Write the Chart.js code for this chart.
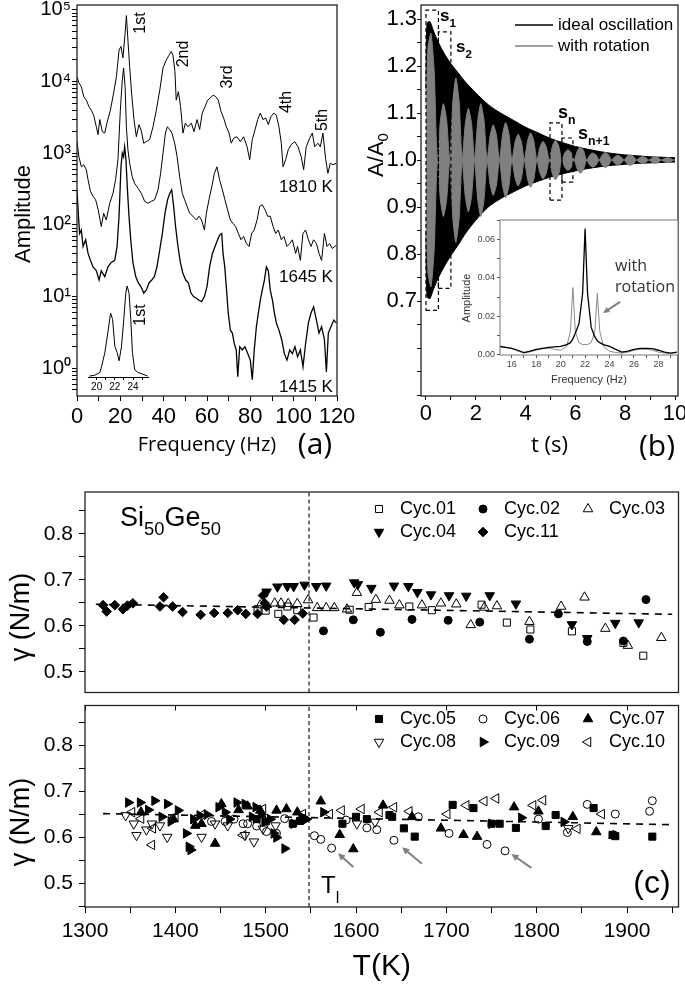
<!DOCTYPE html>
<html>
<head>
<meta charset="utf-8">
<script src="https://cdn.jsdelivr.net/npm/chart.js"></script>
<style>
  html, body { margin: 0; padding: 0; background: #fff; }
  #page { position: relative; width: 685px; height: 985px; overflow: hidden; }
  canvas { position: absolute; }
</style>
</head>
<body>
<div id="page">
  <canvas id="cA" width="356" height="460" style="left:0;top:0"></canvas>
  <canvas id="cAi" width="75" height="125" style="left:80px;top:275px"></canvas>
  <canvas id="cB" width="343" height="460" style="left:342px;top:0"></canvas>
  <canvas id="cBi" width="226" height="175" style="left:455px;top:215px"></canvas>
  <canvas id="cC1" width="685" height="219" style="left:0;top:480px"></canvas>
  <canvas id="cC2" width="685" height="286" style="left:0;top:699px"></canvas>
</div>
<script>
// ---- (a) spectra, frequency (Hz) / amplitude ----
const f1810 = [0,0.9,2.0,3.1,4.3,5.5,6.6,7.7,8.9,9.7,10.5,11.7,12.8,13.8,15.4,16.9,18.2,19.4,20.3,21.2,22.2,22.8,23.5,24.3,25.2,26.3,27.4,28.6,29.7,30.8,32.0,33.5,35.1,36.6,38.2,39.7,41.2,42.5,43.5,44.3,45.2,45.8,46.8,47.8,48.9,50.0,51.2,52.8,54.0,55.4,56.6,57.8,59.1,60.3,61.5,62.8,64.0,65.2,66.5,67.7,68.9,70.2,71.2,72.3,73.8,75.4,76.9,78.5,79.7,80.9,82.2,83.4,84.6,85.8,87.1,88.3,89.5,90.8,92.0,93.2,94.3,95.1,96.3,97.5,98.9,100.5,102.0,103.5,104.6,105.8,107.4,108.6,109.7,111.2,112.3,113.5,114.8,115.8,116.9,118.2,119.7];
const a1810 = [11700,9550,8500,6170,5500,4470,3980,3390,2340,1820,2950,2000,1910,2630,3980,6920,11700,27500,30900,21400,46800,83200,38000,16200,6920,2950,1700,2510,2040,1380,1450,1550,2340,3980,7590,15500,20000,23400,26300,23400,13800,5500,7240,4470,1910,2630,2340,2630,2000,2950,2140,3630,4470,5500,5890,6460,6170,5500,3800,3090,2340,1910,1380,1620,1700,1450,1700,1230,813,1550,2140,2950,3630,2950,3090,2510,3240,3630,3390,2340,1380,646,813,1120,1320,1450,1230,891,589,1230,1620,1910,1230,1380,1230,1910,813,525,724,692,724];
const f1645 = [0,0.9,2.0,3.1,4.3,5.1,6.2,7.4,8.6,9.8,11.2,12.3,13.5,15.1,16.6,17.8,18.9,20.0,20.9,21.5,22.2,22.8,23.5,24.3,25.5,26.6,28.2,29.7,31.2,32.8,34.3,35.8,37.4,38.6,39.7,40.8,41.7,42.8,43.8,45.1,46.2,47.4,48.6,49.7,50.8,52.0,53.5,55.1,56.3,57.5,58.8,59.7,60.9,62.2,63.4,64.6,65.8,67.1,68.3,69.5,70.8,72.0,73.2,74.5,75.7,76.9,78.2,79.4,80.6,81.8,83.1,84.3,85.5,86.8,88.0,89.2,90.5,91.7,92.9,94.3,95.5,96.9,98.2,99.4,100.9,101.8,103.1,104.3,105.5,106.8,108.0,109.2,110.5,111.7,112.9,114.2,115.4,116.6,117.8,119.7];
const a1645 = [1450,891,646,692,589,427,295,251,224,162,95,145,117,200,275,427,813,3980,10500,15500,8510,2340,1120,724,468,380,324,275,214,200,214,224,309,525,1000,1910,2340,2140,1910,1380,891,468,275,224,182,145,132,117,132,117,85,145,224,339,525,646,427,309,224,162,117,105,95,76,62,69,55,50,76,85,117,182,191,162,132,132,95,76,85,62,69,50,55,62,40,50,32,76,85,62,50,62,55,40,32,76,50,55,47,52];
const f1415 = [0,0.6,1.2,2.0,2.8,4.0,5.1,6.2,7.4,8.9,10.2,11.2,12.8,14.3,15.8,17.4,18.5,19.4,20.3,20.9,21.5,22.0,22.6,23.2,24.0,24.8,25.8,27.1,28.3,29.5,30.8,32.0,33.2,34.5,35.7,36.9,38.2,39.4,40.6,41.8,42.8,43.7,44.6,45.5,46.6,47.7,48.9,50.2,51.4,52.6,53.8,55.1,56.3,57.5,58.8,60.0,61.2,62.5,63.7,64.9,65.8,66.8,67.4,68.2,68.9,69.8,70.8,71.7,72.6,73.5,74.2,75.1,76.3,77.5,78.8,80.0,80.9,81.8,82.8,83.7,84.6,85.5,86.5,87.4,88.3,89.2,90.2,91.1,92.0,93.2,94.5,95.7,96.9,98.2,99.4,100.6,101.8,103.1,104.3,105.5,106.8,108.0,109.2,110.5,111.7,112.9,114.2,115.1,116.0,117.2,118.5,119.7];
const a1415 = [309,145,76,85,50,62,40,32,26,23,17,23,19,26,30,32,50,132,646,1000,891,1230,813,339,132,62,30,19,15.5,13.8,11.2,12.3,15.5,17,19,26,45,76,145,224,275,309,182,95,50,30,21,17,15.5,11.2,10,9.5,8.9,8.5,10,13.8,26,40,50,62,72,76,40,26,13.8,5.9,3.4,3.1,2.2,1.8,0.76,2.0,1.8,2.0,1.6,1.3,0.69,1.8,3.8,5.9,8.9,12.3,17,26,23,12.3,8.9,5.9,4.3,3.4,2.5,1.6,1.3,1.8,1.6,2.0,1.45,1.8,1.05,2.2,4.3,5.9,7.2,4.7,3.1,3.8,2.5,0.89,3.1,3.8,4.7,4.3];
// inset of (a): first peak, 20-24 Hz
const insetFreq = [19.2,19.8,20.36,20.55,20.9,21.27,21.53,21.75,22.0,22.25,22.47,22.73,22.98,23.2,23.35,23.56,23.75,23.93,24.18,24.55,25.1,25.6];
const insetAmp = [0,0.01,0.04,0.11,0.26,0.51,0.70,0.63,0.33,0.26,0.17,0.33,0.63,0.92,1.0,0.92,0.63,0.26,0.07,0.04,0.02,0.0];

// ---- (b) decay, t (s) / A/A0 ----
const envT = [0,0.04,0.15,0.3,0.5,0.75,1.0,1.3,1.6,2.0,2.5,3.0,3.5,4.0,4.5,5.0,5.5,6.0,6.5,7.0,7.5,8.0,8.5,9.0,9.5,10.0];
const envUpper = [1.15,1.29,1.295,1.275,1.25,1.225,1.205,1.185,1.165,1.143,1.118,1.1,1.085,1.07,1.058,1.046,1.037,1.029,1.023,1.018,1.014,1.011,1.009,1.007,1.006,1.005];
const envLower = [0.85,0.71,0.705,0.725,0.75,0.775,0.797,0.82,0.845,0.872,0.9,0.918,0.932,0.945,0.955,0.964,0.971,0.977,0.982,0.986,0.989,0.991,0.993,0.994,0.995,0.996];
const rotT = [0,0.08,0.2,0.33,0.45,0.58,0.7,0.83,0.95,1.08,1.2,1.33,1.45,1.58,1.7,1.83,1.95,2.08,2.2,2.33,2.45,2.58,2.7,2.83,2.95,3.08,3.2,3.33,3.45,3.58,3.7,3.83,3.95,4.08,4.2,4.33,4.45,4.58,4.7,4.83,4.95,5.08,5.2,5.33,5.45,5.58,5.7,5.83,5.95,6.08,6.2,6.33,6.45,6.58,6.7,6.83,6.95,7.08,7.2,7.33,7.45,7.58,7.7,7.83,7.95,8.08,8.2,8.33,8.45,8.58,8.7,8.83,8.95,9.08,9.2,9.33,9.45,9.58,9.7,9.83,9.95,10.0];
const rotUpper = [1.12,1.24,1.27,1.19,1.0,1.085,1.12,1.085,1.0,1.125,1.175,1.125,1.0,1.078,1.11,1.078,1.0,1.085,1.12,1.085,1.0,1.053,1.075,1.053,1.0,1.056,1.08,1.056,1.0,1.039,1.055,1.039,1.0,1.041,1.058,1.041,1.0,1.028,1.04,1.028,1.0,1.03,1.042,1.03,1.0,1.016,1.022,1.016,1.0,1.02,1.028,1.02,1.0,1.011,1.015,1.011,1.0,1.011,1.016,1.011,1.0,1.007,1.01,1.007,1.0,1.008,1.011,1.008,1.0,1.005,1.007,1.005,1.0,1.005,1.007,1.005,1.0,1.0035,1.005,1.0035,1.0,1.002];
const rotLower = [0.88,0.76,0.73,0.81,1.0,0.915,0.88,0.915,1.0,0.875,0.825,0.875,1.0,0.922,0.89,0.922,1.0,0.915,0.88,0.915,1.0,0.947,0.925,0.947,1.0,0.944,0.92,0.944,1.0,0.961,0.945,0.961,1.0,0.959,0.942,0.959,1.0,0.972,0.96,0.972,1.0,0.97,0.958,0.97,1.0,0.984,0.978,0.984,1.0,0.98,0.972,0.98,1.0,0.989,0.985,0.989,1.0,0.989,0.984,0.989,1.0,0.993,0.99,0.993,1.0,0.992,0.989,0.992,1.0,0.995,0.993,0.995,1.0,0.995,0.993,0.995,1.0,0.9965,0.995,0.9965,1.0,0.998];
// dashed windows [t0, t1, low, high]
const boxS1 = [0, 0.5, 0.68, 1.319];
const boxS2 = [0.5, 1.0, 0.727, 1.273];
const boxSn = [4.98, 5.46, 0.915, 1.079];
const boxSn1 = [5.46, 5.9, 0.953, 1.047];
// inset of (b): spectra
const specFreq = [15,15.5,16,16.5,17,17.5,18,18.5,19,19.5,20,20.5,20.8,21,21.2,21.5,21.8,22,22.2,22.5,22.8,23,23.2,23.5,24,24.5,25,25.5,26,26.5,27,27.5,28,28.5,29,29.5];
const specIdeal = [0.004,0.0035,0.003,0.002,0.0008,0.0015,0.0025,0.003,0.0035,0.0038,0.004,0.005,0.006,0.008,0.011,0.016,0.032,0.066,0.032,0.014,0.009,0.007,0.006,0.005,0.004,0.0025,0.001,0.0015,0.0025,0.003,0.003,0.0028,0.002,0.001,0.0005,0.001];
const specRot = [0.004,0.0035,0.003,0.0015,0.0005,0.0012,0.002,0.0028,0.003,0.0025,0.002,0.004,0.012,0.035,0.012,0.006,0.005,0.005,0.005,0.006,0.012,0.032,0.012,0.004,0.0015,0.0008,0.0005,0.001,0.002,0.0025,0.0025,0.002,0.001,0.0005,0.0003,0.0008];

// ---- (c) surface tension, [T (K), gamma (N/m)] ----
const cyc01 = [[1491,0.636],[1500,0.633],[1514,0.626],[1524,0.642],[1535,0.634],[1553,0.618],[1593,0.635],[1614,0.641],[1659,0.642],[1684,0.634],[1739,0.646],[1767,0.607],[1793,0.592],[1839,0.588],[1896,0.563],[1918,0.535]];
const cyc02 = [[1564,0.589],[1597,0.613],[1627,0.586],[1662,0.614],[1702,0.612],[1737,0.608],[1792,0.571],[1824,0.626],[1856,0.566],[1896,0.567],[1921,0.657]];
const cyc03 = [[1494,0.645],[1510,0.649],[1517,0.649],[1525,0.648],[1535,0.648],[1547,0.656],[1557,0.639],[1567,0.639],[1576,0.639],[1590,0.636],[1601,0.672],[1622,0.657],[1637,0.655],[1648,0.645],[1673,0.645],[1694,0.649],[1711,0.647],[1727,0.602],[1742,0.64],[1756,0.643],[1792,0.609],[1827,0.642],[1853,0.662],[1876,0.594],[1901,0.557],[1938,0.574]];
const cyc04 = [[1501,0.674],[1513,0.685],[1524,0.686],[1531,0.686],[1543,0.689],[1556,0.686],[1567,0.687],[1598,0.694],[1602,0.69],[1617,0.682],[1642,0.687],[1658,0.686],[1668,0.673],[1683,0.668],[1703,0.666],[1722,0.665],[1748,0.666],[1777,0.648],[1839,0.603],[1856,0.573],[1887,0.606],[1913,0.607]];
const cyc11 = [[1320,0.645],[1324,0.631],[1333,0.645],[1342,0.636],[1347,0.644],[1353,0.649],[1383,0.642],[1387,0.662],[1397,0.642],[1408,0.63],[1428,0.624],[1443,0.628],[1458,0.628],[1469,0.634],[1478,0.626],[1491,0.626],[1497,0.666],[1499,0.649],[1501,0.642],[1520,0.613],[1532,0.613],[1541,0.627]];
const cyc05 = [[1490,0.64],[1500,0.635],[1530,0.63],[1538,0.636],[1585,0.63],[1600,0.645],[1612,0.64],[1637,0.649],[1640,0.645],[1653,0.62],[1665,0.602],[1707,0.671],[1730,0.664],[1750,0.63],[1759,0.63],[1777,0.621],[1810,0.625],[1821,0.649],[1863,0.664],[1884,0.606],[1887,0.603],[1928,0.602]];
const cyc06 = [[1440,0.635],[1455,0.635],[1465,0.64],[1475,0.63],[1480,0.63],[1490,0.625],[1501,0.613],[1512,0.609],[1521,0.641],[1554,0.604],[1561,0.596],[1573,0.577],[1589,0.638],[1612,0.621],[1623,0.617],[1642,0.594],[1669,0.645],[1703,0.609],[1745,0.585],[1765,0.571],[1802,0.64],[1834,0.611],[1856,0.672],[1887,0.651],[1925,0.657],[1928,0.68]];
const cyc07 = [[1362,0.655],[1398,0.64],[1422,0.626],[1429,0.63],[1444,0.587],[1451,0.673],[1470,0.66],[1480,0.668],[1494,0.659],[1512,0.659],[1523,0.662],[1535,0.655],[1561,0.679],[1582,0.606],[1597,0.575],[1630,0.67],[1662,0.645],[1694,0.62],[1719,0.606],[1734,0.602],[1775,0.666],[1802,0.657],[1840,0.645],[1866,0.612],[1885,0.604]];
const cyc08 = [[1345,0.648],[1354,0.63],[1357,0.605],[1368,0.617],[1374,0.63],[1383,0.626],[1391,0.601],[1429,0.601],[1444,0.63],[1458,0.626],[1477,0.605],[1487,0.591],[1497,0.619],[1511,0.626],[1601,0.63],[1621,0.634],[1835,0.62]];
const cyc09 = [[1348,0.676],[1361,0.676],[1370,0.66],[1377,0.68],[1385,0.645],[1391,0.673],[1395,0.635],[1403,0.659],[1412,0.609],[1415,0.58],[1417,0.573],[1420,0.64],[1427,0.648],[1435,0.65],[1448,0.666],[1455,0.655],[1460,0.64],[1468,0.676],[1477,0.673],[1485,0.645],[1489,0.666],[1495,0.65],[1499,0.634],[1505,0.64],[1509,0.609],[1512,0.6],[1521,0.576],[1531,0.63],[1540,0.645],[1545,0.64],[1564,0.655],[1750,0.63],[1783,0.643],[1830,0.634]];
const cyc10 = [[1352,0.655],[1362,0.641],[1374,0.584],[1375,0.62],[1400,0.645],[1430,0.65],[1475,0.605],[1497,0.662],[1541,0.651],[1571,0.651],[1584,0.659],[1606,0.662],[1626,0.655],[1642,0.666],[1659,0.657],[1701,0.651],[1722,0.67],[1742,0.679],[1755,0.685],[1796,0.67],[1807,0.681],[1845,0.619],[1872,0.651]];
const fitTop = [[1312,0.647],[1950,0.625]];
const fitBottom = [[1320,0.652],[1950,0.628]];
const meltT = 1548;

// ---- look ----
const SANS = '"Liberation Sans", Arial, sans-serif';
const OPEN = '"Open Sans", sans-serif';
const SUP = ['\u2070','\u00b9','\u00b2','\u00b3','\u2074','\u2075'];
Chart.defaults.color = '#000';
Chart.defaults.font.family = SANS;

function fix(size) {
  return function (s) {
    if (s.isHorizontal()) s.height = size; else s.width = size;
    s.paddingLeft = s.paddingRight = s.paddingTop = s.paddingBottom = 0;
  };
}
function tickFont(size) { return { family: SANS, size: size }; }
function grid(len, color) { return { drawOnChartArea: false, tickLength: len, tickColor: color || '#000', tickWidth: 1 }; }
function xy(xs, ys) { return xs.map((x, i) => ({ x: x, y: ys[i] })); }
function pts(arr) { return arr.map(p => ({ x: p[0], y: p[1] })); }
function boxPath(b) { return [{x:b[0],y:b[2]},{x:b[1],y:b[2]},{x:b[1],y:b[3]},{x:b[0],y:b[3]},{x:b[0],y:b[2]}]; }
function base(o) {
  o.responsive = false;
  o.animation = false;
  o.events = [];
  o.plugins = Object.assign({ legend: { display: false }, tooltip: { enabled: false } }, o.plugins || {});
  return o;
}

function drawRich(ctx, str, x, y, t) {
  const size = t.size || 16, fam = t.family || SANS, wt = t.weight || 'normal';
  const subK = t.subScale || 0.68, subDy = t.subDy || 0.32;
  const parts = String(str).split(/(_\{[^}]*\})/).filter(Boolean).map(p =>
    p.startsWith('_{') ? { s: p.slice(2, -1), k: 1 } : { s: p, k: 0 });
  ctx.save();
  ctx.translate(x, y);
  if (t.rot) ctx.rotate(t.rot * Math.PI / 180);
  ctx.fillStyle = t.color || '#000';
  ctx.textBaseline = 'middle';
  let w = 0;
  parts.forEach(p => {
    p.size = p.k ? size * subK : size;
    ctx.font = wt + ' ' + p.size + 'px ' + fam;
    p.w = ctx.measureText(p.s).width;
    w += p.w;
  });
  let cx = t.align === 'left' ? 0 : (t.align === 'right' ? -w : -w / 2);
  parts.forEach(p => {
    ctx.font = wt + ' ' + p.size + 'px ' + fam;
    ctx.fillText(p.s, cx, p.k * size * subDy);
    cx += p.w;
  });
  ctx.restore();
}

function arrow(ctx, x1, y1, x2, y2, color, w, head) {
  const ang = Math.atan2(y2 - y1, x2 - x1);
  ctx.save();
  ctx.strokeStyle = color; ctx.fillStyle = color; ctx.lineWidth = w;
  ctx.beginPath();
  ctx.moveTo(x1, y1);
  ctx.lineTo(x2 - Math.cos(ang) * head * 0.7, y2 - Math.sin(ang) * head * 0.7);
  ctx.stroke();
  ctx.beginPath();
  ctx.moveTo(x2, y2);
  ctx.lineTo(x2 - head * Math.cos(ang - 0.45), y2 - head * Math.sin(ang - 0.45));
  ctx.lineTo(x2 - head * Math.cos(ang + 0.45), y2 - head * Math.sin(ang + 0.45));
  ctx.closePath();
  ctx.fill();
  ctx.restore();
}

// frames, labels, legends and arrows
const decor = {
  id: 'decor',
  beforeDraw(chart, args, o) {
    if (!o.areaFill) return;
    const a = chart.chartArea, ctx = chart.ctx;
    ctx.save();
    ctx.fillStyle = o.areaFill;
    ctx.fillRect(a.left, a.top, a.right - a.left, a.bottom - a.top);
    ctx.restore();
  },
  afterDraw(chart, args, o) {
    const ctx = chart.ctx, a = chart.chartArea;
    const ox = o.origin ? o.origin[0] : 0, oy = o.origin ? o.origin[1] : 0;
    if (o.frame) {
      ctx.save();
      ctx.strokeStyle = o.frame;
      ctx.lineWidth = o.frameWidth || 1.3;
      ctx.strokeRect(a.left, a.top, a.right - a.left, a.bottom - a.top);
      ctx.restore();
    }
    (o.lines || []).forEach(l => {
      ctx.save();
      ctx.strokeStyle = l.color; ctx.lineWidth = l.width;
      ctx.beginPath(); ctx.moveTo(l.x1 - ox, l.y - oy); ctx.lineTo(l.x2 - ox, l.y - oy); ctx.stroke();
      ctx.restore();
    });
    (o.arrows || []).forEach(ar => {
      const sx = chart.scales.x, sy = chart.scales.y;
      arrow(ctx, sx.getPixelForValue(ar.from[0]), sy.getPixelForValue(ar.from[1]),
        sx.getPixelForValue(ar.to[0]), sy.getPixelForValue(ar.to[1]), ar.color, ar.width, ar.head);
    });
    (o.legend || []).forEach(item => {
      const ds = chart.data.datasets[item.ds];
      const x = item.x - ox, y = item.y - oy;
      ctx.save();
      ctx.fillStyle = ds.pointBackgroundColor;
      ctx.strokeStyle = ds.pointBorderColor;
      ctx.lineWidth = ds.pointBorderWidth;
      Chart.helpers.drawPoint(ctx, { pointStyle: ds.pointStyle, rotation: ds.pointRotation || 0,
        radius: ds.pointRadius, borderWidth: ds.pointBorderWidth }, x, y);
      ctx.restore();
      drawRich(ctx, ds.label, x + 21, y, { size: 18, align: 'left' });
    });
    (o.texts || []).forEach(t => drawRich(ctx, t.s, t.x - ox, t.y - oy, t));
  }
};
Chart.register(decor);

function spectrum(f, a, w) {
  return { data: xy(f, a), borderColor: '#000', borderWidth: w, pointRadius: 0, fill: false, tension: 0 };
}

// ---------- (a) ----------
new Chart(document.getElementById('cA'), {
  type: 'line',
  data: { datasets: [spectrum(f1810, a1810, 1), spectrum(f1645, a1645, 1), spectrum(f1415, a1415, 1.3)] },
  options: base({
    layout: { padding: { left: 0, top: 5, right: 19, bottom: 0 } },
    scales: {
      x: { type: 'linear', min: 0, max: 120, afterFit: fix(64), border: { display: false }, grid: grid(5),
        ticks: { stepSize: 10, autoSkip: false, maxRotation: 0, padding: 3, font: tickFont(22),
          callback: v => (v % 20 === 0 ? String(v) : '') },
        title: { display: true, text: 'Frequency (Hz)', font: { family: OPEN, size: 20 }, padding: { top: 0, bottom: 3 } } },
      y: { type: 'logarithmic', min: 0.41, max: 117000, afterFit: fix(77), border: { display: false }, grid: grid(5),
        afterBuildTicks: s => {
          s.ticks = s.ticks.filter(t => {
            const m = t.value / Math.pow(10, Math.floor(Math.log10(t.value) + 1e-9));
            return Math.abs(m - Math.round(m)) < 1e-6;
          });
        },
        ticks: { autoSkip: false, padding: 1, font: tickFont(20),
          callback: v => {
            const e = Math.log10(v), r = Math.round(e);
            return (Math.abs(e - r) < 1e-6 && r >= 0) ? '10' + SUP[r] : '';
          } } }
    },
    plugins: { decor: { origin: [0, 0], frame: '#222', texts: [
      { s: 'Amplitude', x: 24, y: 214, size: 22, rot: -90 },
      { s: '1st', x: 141, y: 23, size: 16, rot: -90 },
      { s: '2nd', x: 184, y: 54, size: 16, rot: -90 },
      { s: '3rd', x: 228, y: 77, size: 16, rot: -90 },
      { s: '4th', x: 287, y: 102, size: 16, rot: -90 },
      { s: '5th', x: 323, y: 120, size: 16, rot: -90 },
      { s: '1810 K', x: 306, y: 187, size: 17 },
      { s: '1645 K', x: 306, y: 277, size: 17 },
      { s: '1415 K', x: 306, y: 387, size: 17 },
      { s: '1st', x: 141, y: 315, size: 16, rot: -90 },
      { s: '(a)', x: 315, y: 445, size: 30, family: OPEN }
    ] } }
  })
});

// inset of (a)
new Chart(document.getElementById('cAi'), {
  type: 'line',
  data: { datasets: [spectrum(insetFreq, insetAmp, 1)] },
  options: base({
    layout: { padding: { left: 8, top: 5, right: 7, bottom: 0 } },
    scales: {
      x: { type: 'linear', min: 19.05, max: 25.64, afterFit: fix(23), border: { display: true, color: '#000', width: 1 }, grid: grid(3),
        ticks: { stepSize: 1, includeBounds: false, autoSkip: false, maxRotation: 0, padding: 1, font: tickFont(10),
          callback: v => (v % 2 === 0 ? String(v) : '') } },
      y: { display: false, min: -0.01, max: 1.066 }
    }
  })
});

// ---------- (b) ----------
function boxSet(b) {
  return { data: boxPath(b), borderColor: '#000', borderWidth: 1.2, borderDash: [4, 3], pointRadius: 0, fill: false, tension: 0 };
}
new Chart(document.getElementById('cB'), {
  type: 'line',
  data: { datasets: [
    boxSet(boxS1), boxSet(boxS2), boxSet(boxSn), boxSet(boxSn1),
    { label: 'with rotation', data: xy(rotT, rotUpper), borderColor: '#808080', backgroundColor: '#808080', borderWidth: 1, pointRadius: 0, fill: '+1', tension: 0.2 },
    { data: xy(rotT, rotLower), borderColor: '#808080', borderWidth: 1, pointRadius: 0, fill: false, tension: 0.2 },
    { label: 'ideal oscillation', data: xy(envT, envUpper), borderColor: '#000', backgroundColor: '#000', borderWidth: 1, pointRadius: 0, fill: '+1', tension: 0.3 },
    { data: xy(envT, envLower), borderColor: '#000', borderWidth: 1, pointRadius: 0, fill: false, tension: 0.3 }
  ] },
  options: base({
    layout: { padding: { left: 0, top: 5, right: 7, bottom: 0 } },
    scales: {
      x: { type: 'linear', min: -0.2, max: 10.12, afterFit: fix(64), border: { display: false }, grid: grid(4),
        ticks: { stepSize: 1, includeBounds: false, autoSkip: false, maxRotation: 0, padding: 1, font: tickFont(22),
          callback: v => (Math.round(v) % 2 === 0 ? String(Math.round(v)) : '') },
        title: { display: true, text: 't (s)', font: { family: OPEN, size: 22 }, padding: { top: 0, bottom: 1 } } },
      y: { min: 0.498, max: 1.33, afterFit: fix(79), border: { display: false }, grid: grid(4),
        ticks: { stepSize: 0.05, includeBounds: false, autoSkip: false, padding: 0, font: tickFont(22),
          callback: v => { const k = Math.round(v * 20); return (k % 2 === 0 && k >= 14) ? (k / 20).toFixed(1) : ''; } } }
    },
    plugins: { decor: { origin: [342, 0], frame: '#222',
      lines: [
        { x1: 515, x2: 553, y: 25, color: '#000', width: 1.6 },
        { x1: 515, x2: 553, y: 46, color: '#808080', width: 1.6 }
      ],
      texts: [
        { s: 'A/A_{0}', x: 377, y: 155, size: 22, rot: -90 },
        { s: 'ideal oscillation', x: 558, y: 25, size: 17, align: 'left' },
        { s: 'with rotation', x: 558, y: 46, size: 17, align: 'left' },
        { s: 's_{1}', x: 440, y: 16, size: 17, weight: 'bold', align: 'left', subDy: 0.45 },
        { s: 's_{2}', x: 456, y: 47, size: 17, weight: 'bold', align: 'left', subDy: 0.45 },
        { s: 's_{n}', x: 558, y: 113, size: 18, weight: 'bold', align: 'left', subDy: 0.45 },
        { s: 's_{n+1}', x: 578, y: 134, size: 18, weight: 'bold', align: 'left', subDy: 0.45 },
        { s: '(b)', x: 657, y: 447, size: 30, family: OPEN }
      ] } }
  })
});

// inset of (b)
new Chart(document.getElementById('cBi'), {
  type: 'line',
  data: { datasets: [
    { data: xy(specFreq, specIdeal), borderColor: '#000', borderWidth: 1.3, pointRadius: 0, fill: false, tension: 0 },
    { data: xy(specFreq, specRot), borderColor: '#8a8a8a', borderWidth: 1, pointRadius: 0, fill: false, tension: 0 }
  ] },
  options: base({
    layout: { padding: { left: 0, top: 5, right: 3, bottom: 0 } },
    scales: {
      x: { type: 'linear', min: 15.04, max: 29.6, afterFit: fix(35), border: { display: false }, grid: grid(3, '#555'),
        ticks: { stepSize: 1, includeBounds: false, autoSkip: false, maxRotation: 0, padding: 1, color: '#444', font: tickFont(9),
          callback: v => (v % 2 === 0 ? String(v) : '') },
        title: { display: true, text: 'Frequency (Hz)', color: '#333', font: { family: SANS, size: 11 }, padding: { top: 0, bottom: 3 } } },
      y: { min: -0.0005, max: 0.0705, afterFit: fix(45), border: { display: false }, grid: grid(3, '#555'),
        ticks: { stepSize: 0.01, includeBounds: false, autoSkip: false, padding: 2, color: '#444', font: tickFont(9),
          callback: v => { const k = Math.round(v * 100); return k % 2 === 0 ? (k / 100).toFixed(2) : ''; } } }
    },
    plugins: { decor: { origin: [455, 215], frame: '#777', frameWidth: 1, areaFill: '#fff',
      arrows: [{ from: [24.86, 0.0274], to: [23.47, 0.0216], color: '#808080', width: 2, head: 7 }],
      texts: [
        { s: 'Amplitude', x: 467, y: 298, size: 11, rot: -90, color: '#333' },
        { s: 'with', x: 615, y: 266, size: 16, family: OPEN, align: 'left', color: '#333' },
        { s: 'rotation', x: 615, y: 287, size: 16, family: OPEN, align: 'left', color: '#333' }
      ] } }
  })
});

// ---------- (c) ----------
const tMin = 1300, tMax = 1957;
function marks(label, arr, style, rot, r, filled) {
  return { label: label, data: pts(arr), showLine: false, pointStyle: style, pointRotation: rot, pointRadius: r,
    pointBackgroundColor: filled ? '#000' : 'rgba(0,0,0,0)', pointBorderColor: '#000', pointBorderWidth: 1 };
}
function dashed(arr, dash, w) {
  return { data: pts(arr), showLine: true, borderColor: '#000', borderWidth: w, borderDash: dash, pointRadius: 0, fill: false };
}
function gammaAxis(min, max) {
  return { min: min, max: max, afterFit: fix(85), border: { display: false }, grid: grid(6),
    ticks: { stepSize: 0.05, includeBounds: false, autoSkip: false, padding: 6, font: tickFont(21),
      callback: v => { const k = Math.round(v * 20); return (k % 2 === 0 && k <= 16) ? (k / 20).toFixed(1) : ''; } } };
}
function tempAxis(show) {
  return { type: 'linear', min: tMin, max: tMax, display: show, afterFit: fix(show ? 78 : 0), border: { display: false }, grid: grid(6),
    ticks: { stepSize: 50, includeBounds: false, autoSkip: false, maxRotation: 0, padding: 6, font: tickFont(21),
      callback: v => (v % 100 === 0 ? String(v) : '') },
    title: { display: show, text: 'T(K)', font: { family: SANS, size: 30 }, padding: { top: 0, bottom: 0 } } };
}

const c1Min = 0.455, c1Max = 0.891;
new Chart(document.getElementById('cC1'), {
  type: 'scatter',
  data: { datasets: [
    marks('Cyc.01', cyc01, 'rect', 0, 5, false),
    marks('Cyc.02', cyc02, 'circle', 0, 4, true),
    marks('Cyc.03', cyc03, 'triangle', 0, 5.5, false),
    marks('Cyc.04', cyc04, 'triangle', 180, 5.5, true),
    marks('Cyc.11', cyc11, 'rectRot', 0, 4.8, true),
    dashed(fitTop, [7, 6], 1.6),
    dashed([[meltT, c1Min], [meltT, c1Max]], [4, 3], 1.1)
  ] },
  options: base({
    layout: { padding: { left: 0, top: 12, right: 5, bottom: 1 } },
    scales: { x: tempAxis(false), y: gammaAxis(c1Min, c1Max) },
    plugins: { decor: { origin: [0, 480], frame: '#222',
      legend: [
        { ds: 0, x: 379, y: 509 }, { ds: 1, x: 483, y: 509 }, { ds: 2, x: 588, y: 509 },
        { ds: 3, x: 379, y: 532 }, { ds: 4, x: 483, y: 532 }
      ],
      texts: [
        { s: '\u03b3 (N/m)', x: 22, y: 617, size: 27, rot: -90 },
        { s: 'Si_{50}Ge_{50}', x: 120, y: 519, size: 27, align: 'left', subDy: 0.42 }
      ] } }
  })
});

const c2Min = 0.449, c2Max = 0.887;
new Chart(document.getElementById('cC2'), {
  type: 'scatter',
  data: { datasets: [
    marks('Cyc.05', cyc05, 'rect', 0, 5, true),
    marks('Cyc.06', cyc06, 'circle', 0, 4, false),
    marks('Cyc.07', cyc07, 'triangle', 0, 5.5, true),
    marks('Cyc.08', cyc08, 'triangle', 180, 5.5, false),
    marks('Cyc.09', cyc09, 'triangle', 90, 5.5, true),
    marks('Cyc.10', cyc10, 'triangle', 270, 5.5, false),
    dashed(fitBottom, [7, 6], 1.6),
    dashed([[meltT, c2Min], [meltT, c2Max]], [4, 3], 1.1)
  ] },
  options: base({
    layout: { padding: { left: 0, top: 2, right: 5, bottom: 0 } },
    scales: {
      x: tempAxis(true),
      xTop: { type: 'linear', position: 'top', min: tMin, max: tMax, afterFit: fix(0), border: { display: false },
        grid: { drawOnChartArea: false, tickLength: -5, tickColor: '#000' },
        ticks: { display: false, stepSize: 100, includeBounds: false, autoSkip: false } },
      y: gammaAxis(c2Min, c2Max)
    },
    plugins: { decor: { origin: [0, 699], frame: '#222',
      legend: [
        { ds: 0, x: 379, y: 719 }, { ds: 1, x: 483, y: 719 }, { ds: 2, x: 588, y: 719 },
        { ds: 3, x: 379, y: 742 }, { ds: 4, x: 483, y: 742 }, { ds: 5, x: 588, y: 742 }
      ],
      arrows: [
        { from: [1597, 0.536], to: [1580, 0.566], color: '#808080', width: 2, head: 8 },
        { from: [1673, 0.543], to: [1651, 0.579], color: '#808080', width: 2, head: 8 },
        { from: [1794, 0.534], to: [1772, 0.564], color: '#808080', width: 2, head: 8 }
      ],
      texts: [
        { s: '\u03b3 (N/m)', x: 22, y: 822, size: 27, rot: -90 },
        { s: 'T_{l}', x: 321, y: 886, size: 24, align: 'left', subDy: 0.5 },
        { s: '(c)', x: 652, y: 884, size: 32 }
      ] } }
  })
});
</script>
</body>
</html>
